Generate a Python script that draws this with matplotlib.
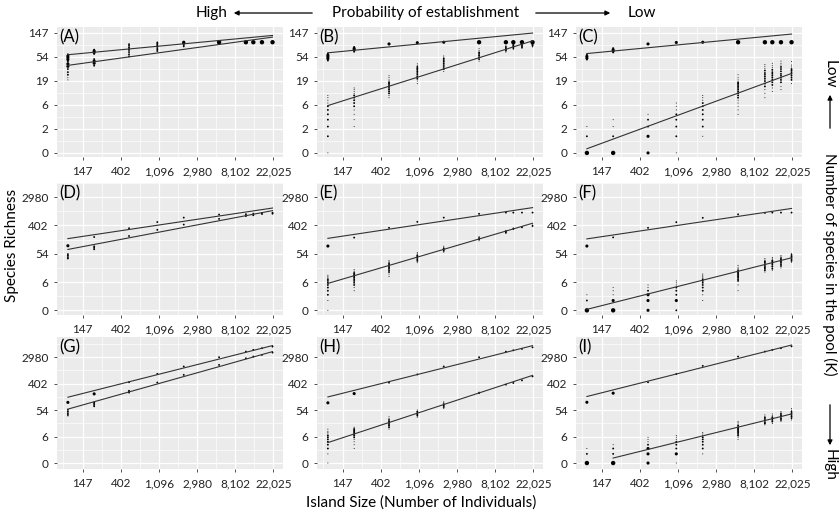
import matplotlib
matplotlib.use("Agg")
import matplotlib.pyplot as plt
import numpy as np

plt.rcParams['font.family'] = ['Lato', 'DejaVu Sans']

# island sizes (number of individuals), same for every panel
island = [100, 200, 500, 1050, 2100, 5300, 10700, 13000, 16300, 21500]

# one list per island size: (species richness, overlap weight 1..4)
A_up = [[(60, 2), (56, 3), (52, 3), (48, 3), (44, 2)],
        [(73, 2), (69, 3), (65, 3), (61, 2)],
        [(92, 2), (86, 2), (80, 2), (75, 2)],
        [(99, 2), (94, 2), (89, 2), (85, 2)],
        [(100, 3), (97, 3)],
        [(100, 4)], [(100, 4)], [(100, 4)], [(100, 4)], [(100, 4)]]
A_lo = [[(40, 3), (36, 3), (32, 2), (28, 2), (25, 2), (22, 1), (20, 1)],
        [(49, 2), (45, 3), (41, 3), (37, 2)],
        [(72, 2), (66, 2), (60, 2), (55, 2)],
        [(83, 2), (78, 2), (73, 2), (69, 2)],
        [(94, 2), (89, 2), (84, 2)],
        [(98, 3), (95, 2)],
        [(100, 3)], [(100, 3)], [(100, 3)], [(100, 3)]]

B_up = [[(62, 2), (58, 3), (54, 3), (50, 3), (46, 2)],
        [(82, 2), (77, 3), (72, 3), (67, 2)],
        [(93, 3)], [(98, 3)], [(100, 3)],
        [(100, 4)], [(100, 4)], [(100, 4)], [(100, 4)], [(100, 4)]]
B_lo = [[(0, 1), (1, 2), (2, 2), (3, 2), (4, 2), (5, 2), (6, 2), (7, 1), (8, 1), (9, 1), (10, 1)],
        [(2, 1), (3, 1), (4, 1), (5, 1), (6, 2), (7, 2), (8, 2), (9, 2), (10, 2), (11, 1), (12, 1), (13, 1), (14, 1)],
        [(9, 1), (10, 1), (11, 2), (12, 2), (13, 2), (14, 2), (15, 2), (16, 2), (17, 2), (18, 2), (19, 1), (20, 1), (22, 1), (24, 1)],
        [(17, 1), (19, 1), (21, 2), (23, 2), (25, 2), (27, 2), (29, 2), (31, 2), (33, 2), (35, 2), (37, 1), (40, 1)],
        [(29, 1), (32, 2), (35, 2), (38, 2), (41, 2), (44, 2), (47, 2), (50, 2), (53, 1), (56, 1)],
        [(45, 1), (49, 2), (53, 2), (57, 2), (61, 2), (65, 2), (70, 1), (76, 1)],
        [(66, 1), (70, 2), (74, 2), (78, 2), (82, 2), (86, 1)],
        [(74, 1), (78, 2), (82, 2), (86, 2), (90, 2), (95, 1)],
        [(77, 1), (81, 2), (85, 2), (89, 2), (93, 2), (97, 1)],
        [(82, 1), (86, 2), (90, 2), (94, 2), (98, 1)]]

C_up = [[(59, 2), (55, 3), (51, 3), (48, 2)],
        [(78, 2), (73, 3), (69, 3), (65, 2)],
        [(93, 3)], [(99, 3)], [(100, 3)],
        [(100, 4)], [(100, 4)], [(100, 4)], [(100, 4)], [(100, 4)]]
C_lo = [[(0, 4), (1, 2), (2, 1)],
        [(0, 4), (1, 2), (2, 1), (3, 1)],
        [(0, 3), (1, 3), (2, 2), (3, 2), (4, 1)],
        [(0, 1), (1, 2), (2, 2), (3, 2), (4, 2), (5, 1), (6, 1), (7, 1)],
        [(1, 1), (2, 2), (3, 2), (4, 2), (5, 2), (6, 2), (7, 2), (8, 1), (9, 1), (10, 1)],
        [(4, 1), (5, 1), (6, 1), (7, 1), (8, 1), (9, 2), (10, 2), (11, 2), (12, 2), (13, 2), (14, 2), (15, 2), (16, 2), (17, 2), (18, 2), (20, 1), (22, 1), (25, 1)],
        [(9, 1), (11, 1), (13, 1), (15, 2), (17, 2), (19, 2), (21, 2), (23, 2), (25, 2), (27, 2), (30, 2), (33, 1), (36, 1), (39, 1)],
        [(12, 1), (14, 1), (16, 2), (18, 2), (20, 2), (22, 2), (24, 2), (26, 2), (28, 2), (31, 2), (34, 1), (37, 1), (41, 1)],
        [(13, 1), (15, 1), (18, 2), (20, 2), (22, 2), (24, 2), (26, 2), (29, 2), (32, 2), (35, 2), (38, 1), (41, 1), (45, 1)],
        [(17, 1), (20, 2), (22, 2), (24, 2), (26, 2), (28, 2), (30, 2), (32, 2), (35, 1), (38, 1), (44, 1)]]

D_up = [[(95, 3)], [(177, 2)], [(330, 2)], [(512, 2)], [(700, 2)],
        [(870, 2)], [(890, 2)], [(925, 2)], [(970, 2)], [(990, 2)]]
D_lo = [[(52, 2), (47, 2), (42, 2), (38, 2)],
        [(91, 2), (82, 2), (74, 2)],
        [(190, 2)], [(295, 2)], [(428, 2)], [(640, 2)],
        [(780, 2)], [(830, 2)], [(905, 2)], [(925, 2)]]

E_up = [[(93, 3)], [(170, 2)], [(340, 2)], [(520, 2)], [(700, 2)],
        [(915, 2)], [(1000, 2)], [(1000, 2)], [(1000, 2)], [(1000, 2)]]
E_lo = [[(0, 1), (1, 1), (2, 2), (3, 2), (4, 2), (5, 2), (6, 2), (7, 2), (8, 2), (9, 1), (10, 1), (11, 1)],
        [(3, 1), (4, 1), (5, 2), (6, 2), (7, 2), (8, 2), (9, 2), (10, 2), (11, 2), (12, 2), (13, 2), (14, 1), (15, 1), (17, 1)],
        [(10, 1), (12, 1), (14, 2), (16, 2), (18, 2), (20, 2), (22, 2), (24, 2), (27, 2), (30, 1), (33, 1)],
        [(28, 1), (32, 2), (36, 2), (40, 2), (44, 2), (48, 2), (53, 1), (58, 1)],
        [(60, 1), (66, 2), (72, 2), (78, 2), (85, 1), (92, 1)],
        [(136, 1), (150, 2), (165, 2), (185, 1)],
        [(227, 1), (245, 2), (265, 2), (283, 1)],
        [(300, 1), (318, 2), (335, 1)],
        [(340, 1), (357, 2), (375, 1)],
        [(370, 1), (390, 2), (415, 1)]]

F_up = [[(93, 3)], [(173, 2)], [(340, 2)], [(507, 2)], [(690, 2)],
        [(880, 2)], [(980, 2)], [(1000, 2)], [(1000, 2)], [(1000, 2)]]
F_lo = [[(0, 4), (1, 2), (2, 1)],
        [(0, 4), (1, 3), (2, 1), (3, 1), (4, 1)],
        [(0, 3), (1, 3), (2, 3), (3, 2), (4, 1), (5, 1)],
        [(0, 2), (1, 3), (2, 2), (3, 2), (4, 2), (5, 1), (6, 1), (7, 1)],
        [(1, 1), (2, 1), (3, 2), (4, 2), (5, 2), (6, 2), (7, 2), (8, 2), (9, 1), (10, 1), (11, 1), (12, 1)],
        [(3, 1), (5, 1), (7, 2), (8, 2), (9, 2), (10, 2), (11, 2), (12, 2), (13, 2), (14, 2), (16, 2), (18, 1), (20, 1), (23, 1)],
        [(14, 1), (16, 2), (18, 2), (20, 2), (22, 2), (25, 2), (28, 2), (31, 2), (34, 1), (38, 1)],
        [(16, 1), (18, 2), (21, 2), (24, 2), (27, 2), (30, 2), (33, 2), (37, 1), (41, 1)],
        [(19, 1), (22, 2), (25, 2), (28, 2), (31, 2), (35, 2), (39, 2), (43, 1), (47, 1)],
        [(29, 1), (32, 2), (36, 2), (40, 2), (44, 2), (49, 2), (54, 1)]]

G_up = [[(97, 3)], [(186, 3)], [(450, 2)], [(845, 2)], [(1480, 2)],
        [(2980, 2)], [(4570, 2)], [(5200, 2)], [(5900, 2)], [(6650, 2)]]
G_lo = [[(55, 2), (48, 2), (42, 2), (37, 2), (34, 1)],
        [(97, 2), (88, 2), (80, 2), (72, 2)],
        [(235, 2), (218, 2), (205, 2)],
        [(440, 2)], [(785, 2)], [(1670, 2)],
        [(2760, 2)], [(3140, 2)], [(3560, 2)], [(4240, 2)]]

H_up = [[(94, 3)], [(190, 3)], [(435, 2)], [(810, 2)], [(1480, 2)],
        [(2980, 2)], [(4550, 2)], [(5050, 2)], [(5600, 2)], [(6300, 2)]]
H_lo = [[(0, 1), (1, 1), (2, 2), (3, 2), (4, 2), (5, 2), (6, 2), (7, 2), (8, 1), (9, 1), (10, 1), (12, 1)],
        [(2, 1), (3, 1), (4, 1), (5, 1), (6, 2), (7, 2), (8, 2), (9, 2), (10, 2), (11, 2), (12, 2), (13, 1), (14, 1)],
        [(12, 1), (14, 2), (16, 2), (18, 2), (20, 2), (22, 2), (25, 2), (28, 1), (32, 1)],
        [(31, 1), (35, 2), (39, 2), (43, 2), (48, 2), (54, 1)],
        [(61, 1), (68, 2), (76, 2), (85, 2), (94, 1), (101, 1)],
        [(190, 1), (200, 2), (212, 1)],
        [(375, 2)], [(425, 2)], [(517, 2)], [(700, 2)]]

I_up = [[(98, 3)], [(196, 3)], [(450, 2)], [(840, 2)], [(1550, 2)],
        [(3130, 2)], [(4580, 2)], [(5200, 2)], [(5900, 2)], [(6800, 2)]]
I_lo = [[(0, 4), (1, 2), (2, 1)],
        [(0, 4), (1, 2), (2, 2), (3, 1)],
        [(0, 3), (1, 3), (2, 3), (3, 2), (4, 1), (5, 1), (6, 1)],
        [(0, 1), (1, 3), (2, 2), (3, 2), (4, 2), (5, 1), (6, 1), (7, 1)],
        [(1, 1), (2, 2), (3, 2), (4, 2), (5, 2), (6, 2), (7, 1), (8, 1), (9, 1)],
        [(5, 1), (6, 1), (7, 2), (8, 2), (9, 2), (10, 2), (11, 2), (12, 2), (13, 2), (14, 2), (16, 2), (18, 1), (20, 1), (22, 1)],
        [(17, 1), (19, 2), (21, 2), (24, 2), (27, 2), (30, 2), (33, 1), (37, 1)],
        [(19, 1), (22, 2), (25, 2), (28, 2), (31, 2), (35, 1), (40, 1)],
        [(22, 1), (25, 2), (28, 2), (32, 2), (36, 2), (40, 2), (44, 1), (48, 1)],
        [(25, 1), (29, 2), (33, 2), (37, 2), (42, 2), (47, 2), (53, 1), (60, 1)]]

# fitted lines: richness at first / last island size
up_start = [59, 64, 62, 158, 161, 155, 144, 147, 152]
up_end = [133, 147, 141, 1380, 1420, 1340, 7200, 7150, 7500]
lo_start = [37.5, 6.2, 0.19, 73, 5.7, 0.07, 58, 3.7, 0.46]
lo_end = [124, 106, 26.5, 1150, 470, 40, 4560, 755, 40]
lo_first = [0, 0, 0, 0, 0, 0, 0, 0, 1]

letters = ["A", "B", "C", "D", "E", "F", "G", "H", "I"]
ups = [A_up, B_up, C_up, D_up, E_up, F_up, G_up, H_up, I_up]
los = [A_lo, B_lo, C_lo, D_lo, E_lo, F_lo, G_lo, H_lo, I_lo]

xtick_lab = ["147", "402", "1,096", "2,980", "8,102", "22,025"]
ytick_lab_top = ["0", "2", "6", "19", "54", "147"]
ytick_lab_low = ["0", "6", "54", "402", "2980"]

W, H = 840, 517
fig = plt.figure(figsize=(W / 100, H / 100), dpi=100)

lefts = [57, 317, 576]
width = 226
tops = [27, 183, 337]
heights = [130, 132, 132]
ylims = [(-0.17, 5.25), (-0.33, 8.38), (-0.45, 9.53)]
dot = {1: 0.5, 2: 1.8, 3: 5.0, 4: 10.0}


def draw_series(ax, cols):
    xs, ys, ss = [], [], []
    for j, col in enumerate(cols):
        for s, w in col:
            xs.append(np.log1p(island[j]))
            ys.append(np.log1p(s))
            ss.append(dot[w])
    ax.scatter(xs, ys, s=ss, c="black", linewidths=0, zorder=3)


for k in range(9):
    r, c = divmod(k, 3)
    ax = fig.add_axes([lefts[c] / W, 1 - (tops[r] + heights[r]) / H,
                       width / W, heights[r] / H])
    ax.set_facecolor("#EBEBEB")
    for sp in ax.spines.values():
        sp.set_visible(False)
    ax.set_xlim(4.33, 10.25)
    ax.set_ylim(*ylims[r])
    ax.set_xticks(range(5, 11))
    ax.set_xticklabels(xtick_lab)
    ax.set_xticks(np.arange(4.5, 10.5, 1.0), minor=True)
    if r == 0:
        ax.set_yticks(range(0, 6))
        ax.set_yticklabels(ytick_lab_top)
        ax.set_yticks(np.arange(0.5, 5.5, 1.0), minor=True)
    else:
        ax.set_yticks(range(0, 9, 2))
        ax.set_yticklabels(ytick_lab_low)
        ax.set_yticks(range(1, 10, 2), minor=True)
    ax.grid(which="major", color="white", lw=0.9)
    ax.grid(which="minor", color="white", lw=0.45)
    ax.set_axisbelow(True)
    ax.tick_params(which="major", length=2.5, width=0.6, color="#333333",
                   labelsize=8.5, labelcolor="#222222")
    ax.tick_params(axis="x", which="major", pad=4)
    ax.tick_params(axis="y", which="major", pad=3.5)
    ax.tick_params(which="minor", length=0)

    draw_series(ax, ups[k])
    draw_series(ax, los[k])
    ax.plot([np.log1p(island[0]), np.log1p(island[-1])],
            [np.log1p(up_start[k]), np.log1p(up_end[k])],
            color="#333333", lw=0.8, zorder=4)
    ax.plot([np.log1p(island[lo_first[k]]), np.log1p(island[-1])],
            [np.log1p(lo_start[k]), np.log1p(lo_end[k])],
            color="#333333", lw=0.8, zorder=4)
    ax.text(0.012, 0.985, "(" + letters[k] + ")", transform=ax.transAxes,
            ha="left", va="top", fontsize=12)


def fx(x):
    return x / W


def fy(y):
    return 1 - y / H


arrow = dict(arrowstyle="-|>", lw=0.9, color="black", mutation_scale=7)

# top annotation
fig.text(fx(212), fy(13), "High", ha="center", va="center", fontsize=11)
fig.text(fx(426), fy(13), "Probability of establishment", ha="center", va="center", fontsize=11)
fig.text(fx(642), fy(13), "Low", ha="center", va="center", fontsize=11)
fig.add_artist(matplotlib.patches.FancyArrowPatch((fx(315), fy(13)), (fx(231), fy(13)),
                                                  transform=fig.transFigure, **arrow))
fig.add_artist(matplotlib.patches.FancyArrowPatch((fx(533), fy(13)), (fx(613), fy(13)),
                                                  transform=fig.transFigure, **arrow))

# right annotation
fig.text(fx(830), fy(74), "Low", ha="center", va="center", fontsize=11, rotation=270)
fig.text(fx(830), fy(264), "Number of species in the pool (K)", ha="center", va="center",
         fontsize=11, rotation=270)
fig.text(fx(830), fy(465), "High", ha="center", va="center", fontsize=11, rotation=270)
fig.add_artist(matplotlib.patches.FancyArrowPatch((fx(830), fy(131)), (fx(830), fy(92)),
                                                  transform=fig.transFigure, **arrow))
fig.add_artist(matplotlib.patches.FancyArrowPatch((fx(830), fy(402)), (fx(830), fy(448)),
                                                  transform=fig.transFigure, **arrow))

fig.text(fx(12), fy(245), "Species Richness", ha="center", va="center", fontsize=11, rotation=90)
fig.text(fx(421), fy(503), "Island Size (Number of Individuals)", ha="center", va="center",
         fontsize=11)

fig.savefig("out.png", dpi=100)
